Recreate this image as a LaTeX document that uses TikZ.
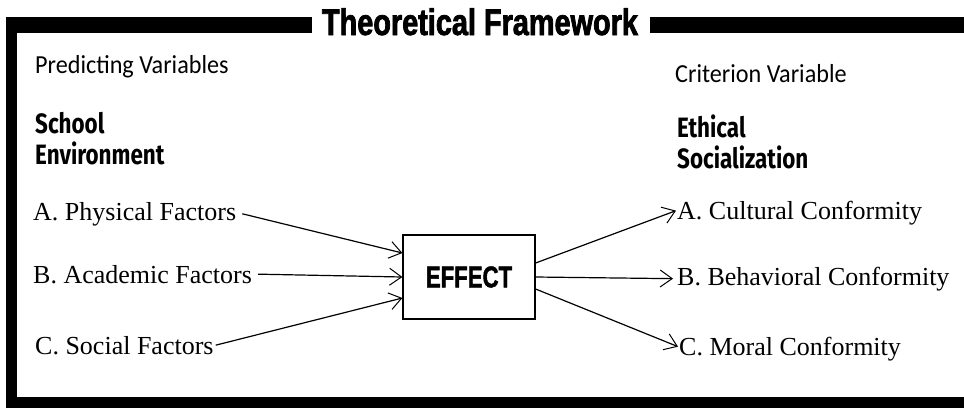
\documentclass[tikz,border=0pt]{standalone}
\usepackage{fontspec}
\usetikzlibrary{arrows.meta}
\setmainfont{Liberation Serif}
\newfontfamily\titlefont{Liberation Sans}[FakeStretch=0.78,FakeBold=2]
\newfontfamily\effectfont{Liberation Sans}[FakeStretch=0.74,FakeBold=1.5]
\newfontfamily\labelfont{Carlito}[FakeStretch=0.93]
\newfontfamily\headfont{Fira Sans}[FakeStretch=0.8]
\tikzset{
  txt/.style={inner sep=0pt, anchor=base west},
  serif/.style={txt, font=\fontsize{26}{30}\selectfont},
  lbl/.style={txt, font=\labelfont\fontsize{26}{30}\selectfont},
  head/.style={txt, font=\headfont\bfseries\fontsize{28}{30}\selectfont},
  arr/.style={line width=1.2pt, -{Straight Barb[length=12pt,width=17pt,line width=1pt]}},
  effbox/.style={draw, line width=1.2pt, minimum width=132pt, minimum height=84pt, inner sep=0pt,
    font=\effectfont\bfseries\fontsize{30}{32}\selectfont}
}
\begin{document}
\begin{tikzpicture}[x=1pt,y=-1pt]
\useasboundingbox (0,0) rectangle (964,408);
% frame
\fill (6,17) rectangle (312,33);
\fill (650,17) rectangle (964,33);
\fill (6,17) rectangle (17,408);
\fill (6,397) rectangle (964,408);
\node[inner sep=0pt, anchor=base, font=\titlefont\bfseries\fontsize{37}{40}\selectfont] (title) at (480,35) {Theoretical Framework};
% headers
\node[lbl] (pv) at (35,73) {Predicting Variables};
\node[lbl] (cv) at (675,82) {Criterion Variable};
\node[head] (se1) at (35,133) {School};
\node[head] (se2) at (35,164) {Environment};
\node[head] (es1) at (677,137) {Ethical};
\node[head] (es2) at (677,168) {Socialization};
% items
\node[serif] (la) at (33,220) {A. Physical Factors};
\node[serif] (lb) at (33,283) {B. Academic Factors};
\node[serif] (lc) at (35,354) {C. Social Factors};
\node[serif] (ra) at (677,219) {A. Cultural Conformity};
\node[serif] (rb) at (677,285) {B. Behavioral Conformity};
\node[serif] (rc) at (679,355) {C. Moral Conformity};
% effect
\node[effbox] (eff) at (469,277) {EFFECT};
% arrows
\draw[arr] ([xshift=6pt]la.east) -- ([yshift=24pt]eff.west);
\draw[arr] ([xshift=6pt]lb.east) -- (eff.west);
\draw[arr] ([xshift=2pt]lc.east) -- ([yshift=-21pt]eff.west);
\draw[arr] ([yshift=14pt]eff.east) -- ([xshift=-1pt,yshift=2pt]ra.west);
\draw[arr] (eff.east) -- ([xshift=-4pt]rb.west);
\draw[arr] ([yshift=-12pt]eff.east) -- ([xshift=-1pt,yshift=2pt]rc.west);
\end{tikzpicture}
\end{document}
